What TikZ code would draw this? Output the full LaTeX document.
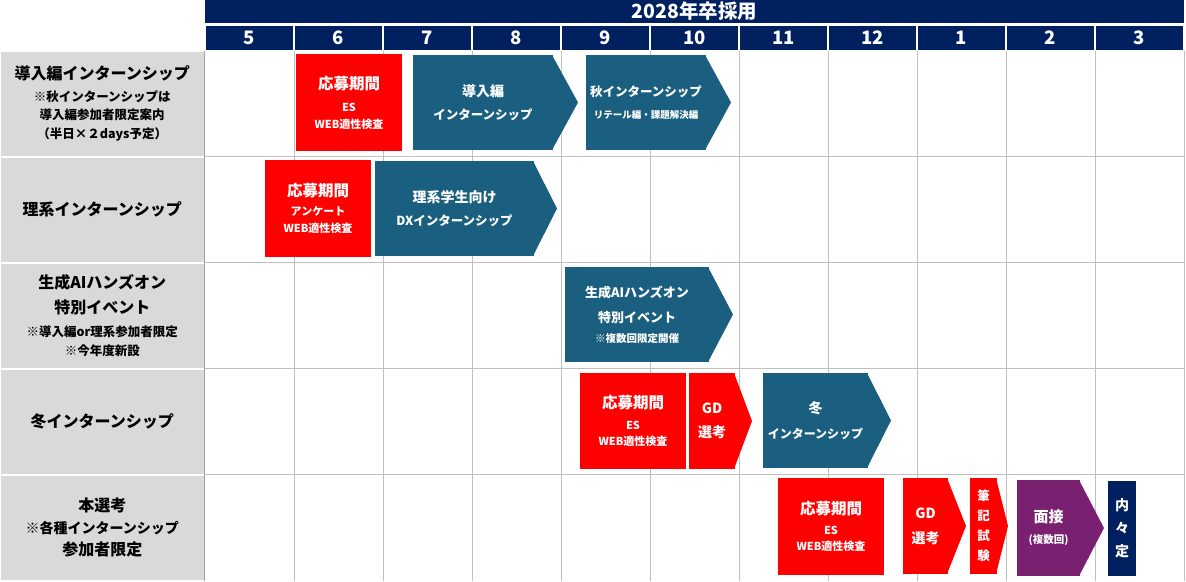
\documentclass[tikz,border=0pt]{standalone}
\usepackage{fontspec}
\setmainfont{Noto Sans CJK JP}
\usetikzlibrary{positioning}

\definecolor{headnavy}{HTML}{002060}
\definecolor{barblue}{HTML}{1B5F80}
\definecolor{barred}{HTML}{FF0000}
\definecolor{barpurple}{HTML}{7A2070}
\definecolor{labelgrey}{HTML}{D9D9D9}
\definecolor{gridgrey}{HTML}{C0C0C0}
\definecolor{edgegrey}{HTML}{A0A0A0}

\newcommand{\fsz}[2]{\fontsize{#1}{#2}\selectfont}

\begin{document}
\begin{tikzpicture}[x=1pt, y=-1pt,
    labelcell/.style={rectangle, fill=labelgrey, draw=white, line width=2pt, minimum width=204.5, minimum height=106, inner sep=0, outer sep=0, align=center},
    headcell/.style={rectangle, fill=headnavy, text=white, inner sep=0, outer sep=0, font=\bfseries\fsz{19.5}{22}},
    monthcell/.style={rectangle, fill=headnavy, draw=white, line width=1.5pt, text=white, minimum width=89, minimum height=25.5, inner sep=0, outer sep=0, font=\bfseries\fsz{18.5}{20}},
    bar/.style={rectangle, text=white, inner sep=0, outer sep=0, align=center},
    redbar/.style={bar, fill=barred},
    bluebar/.style={bar, fill=barblue},
    gridline/.style={draw=gridgrey, line width=1pt},
    edgeline/.style={draw=edgegrey, line width=1.2pt}]
    \useasboundingbox (0,0) rectangle (1186,581);
    \coordinate (bottom) at (0,581);

    % Header
    \node (head) [headcell, minimum width=979, minimum height=23] at (694.5,11.5) {2028年卒採用};
    \node (m5) [monthcell] at (249.5,37.75) {5};
    \node (m6) [monthcell, right=0pt of m5] {6};
    \node (m7) [monthcell, right=0pt of m6] {7};
    \node (m8) [monthcell, right=0pt of m7] {8};
    \node (m9) [monthcell, right=0pt of m8] {9};
    \node (m10) [monthcell, right=0pt of m9] {10};
    \node (m11) [monthcell, right=0pt of m10] {11};
    \node (m12) [monthcell, right=0pt of m11] {12};
    \node (m1) [monthcell, right=0pt of m12] {1};
    \node (m2) [monthcell, right=0pt of m1] {2};
    \node (m3) [monthcell, right=0pt of m2] {3};

    % Row labels
    \node (lbl1) [labelcell, font=\bfseries\fsz{12.5}{18.5}] at (102.25,103.5) {\fsz{16}{20}導入編インターンシップ\\[3pt] \fsz{12.5}{15}※秋インターンシップは\\ \fsz{12.5}{15}導入編参加者限定案内\\ \fsz{12.5}{15}（半日×２days予定）};
    \node (lbl2) [labelcell, below=0pt of lbl1, font=\bfseries\fsz{16}{20}] {理系インターンシップ};
    \node (lbl3) [labelcell, below=0pt of lbl2, font=\bfseries\fsz{12.5}{19}] {\fsz{16}{20}生成AIハンズオン\\[6pt] \fsz{16}{20}特別イベント\\[4.5pt] \fsz{12.5}{15}※導入編or理系参加者限定\\ \fsz{12.5}{15}※今年度新設};
    \node (lbl4) [labelcell, below=0pt of lbl3, font=\bfseries\fsz{16}{20}] {冬インターンシップ};
    \node (lbl5) [labelcell, below=0pt of lbl4, font=\bfseries\fsz{16}{22}] {本選考\\ \fsz{14}{17}※各種インターンシップ\\ \fsz{16}{20}参加者限定};

    % Grid
    \draw[gridline] (m6.south west) -- (m6.south west |- bottom);
    \draw[gridline] (m7.south west) -- (m7.south west |- bottom);
    \draw[gridline] (m8.south west) -- (m8.south west |- bottom);
    \draw[gridline] (m9.south west) -- (m9.south west |- bottom);
    \draw[gridline] (m10.south west) -- (m10.south west |- bottom);
    \draw[gridline] (m11.south west) -- (m11.south west |- bottom);
    \draw[gridline] (m12.south west) -- (m12.south west |- bottom);
    \draw[gridline] (m1.south west) -- (m1.south west |- bottom);
    \draw[gridline] (m2.south west) -- (m2.south west |- bottom);
    \draw[gridline] (m3.south west) -- (m3.south west |- bottom);
    \draw[gridline] (m3.south east) -- (m3.south east |- bottom);
    \draw[gridline] (lbl1.south east) -- (lbl1.south east -| m3.east);
    \draw[gridline] (lbl2.south east) -- (lbl2.south east -| m3.east);
    \draw[gridline] (lbl3.south east) -- (lbl3.south east -| m3.east);
    \draw[gridline] (lbl4.south east) -- (lbl4.south east -| m3.east);
    \draw[edgeline] (lbl1.north east) -- (lbl1.north east |- bottom);

    % Bars
    \node (entry1) [redbar, minimum width=106, minimum height=97, font=\bfseries\fsz{11}{17}] at (349,102.5) {\fsz{15.5}{18}応募期間\\[5pt] \fsz{11}{13}ES\\ \fsz{11}{13}WEB適性検査};
    \node (intro) [bluebar, minimum width=140, minimum height=95, font=\bfseries\fsz{12.5}{23.5}] at (483,102.5) {\fsz{14}{16}導入編\\ \fsz{12.5}{15}インターンシップ};
    \node (autumn) [bluebar, minimum width=120, minimum height=95, font=\bfseries\fsz{10}{22}] at (646,102.5) {\fsz{12.5}{15}秋インターンシップ\\ \fsz{9.5}{11}リテール編・課題解決編};
    \node (entry2) [redbar, minimum width=106, minimum height=97, font=\bfseries\fsz{11}{17}] at (318,208.5) {\fsz{15.5}{18}応募期間\\[2.5pt] \fsz{11}{13}アンケート\\ \fsz{11}{13}WEB適性検査};
    \node (rikei) [bluebar, minimum width=159, minimum height=95, font=\bfseries\fsz{12.5}{23.5}] at (454.5,208.5) {\fsz{14}{16}理系学生向け\\ \fsz{12.5}{15}DXインターンシップ};
    \node (genai) [bluebar, minimum width=144, minimum height=95, font=\bfseries\fsz{10.5}{20}] at (637,314.5) {\fsz{13}{15}生成AIハンズオン\\[5pt] \fsz{13}{15}特別イベント\\ \fsz{10.5}{12}※複数回限定開催};
    \node (entry4) [redbar, minimum width=106, minimum height=96, font=\bfseries\fsz{11}{16}] at (633,421) {\fsz{15.5}{18}応募期間\\[4.3pt] \fsz{11}{13}ES\\ \fsz{11}{13}WEB適性検査};
    \node (gd1) [redbar, minimum width=46, minimum height=96, font=\bfseries\fsz{14}{24}] at (712,421) {GD\\選考};
    \node (winter) [bluebar, minimum width=105, minimum height=95, font=\bfseries\fsz{12}{24.3}] at (815.5,420.5) {\fsz{14}{16}冬\\ \fsz{12}{14}インターンシップ};
    \node (entry5) [redbar, minimum width=106, minimum height=97, font=\bfseries\fsz{11}{16}] at (831,526.5) {\fsz{15.5}{18}応募期間\\[4.3pt] \fsz{11}{13}ES\\ \fsz{11}{13}WEB適性検査};
    \node (gd2) [redbar, minimum width=45, minimum height=96, font=\bfseries\fsz{14}{25}] at (925.5,526) {GD\\選考};
    \node (hikki) [redbar, minimum width=27, minimum height=96, font=\bfseries\fsz{12.5}{20}] at (983.5,526) {筆\\記\\試\\験};
    \node (mensetsu) [bar, fill=barpurple, minimum width=63, minimum height=96, font=\bfseries\fsz{10.5}{21}] at (1048.5,528) {\fsz{15}{17}面接\\ \fsz{10.5}{12}(複数回)};
    \node (naitei) [bar, fill=headnavy, minimum width=28, minimum height=95, font=\bfseries\fsz{14}{23}] at (1122,528.5) {内\\々\\定};

    % Arrow tips
    \fill[barblue] ([xshift=-1pt]intro.north east) -- ([xshift=25pt]intro.east) -- ([xshift=-1pt]intro.south east) -- cycle;
    \fill[barblue] ([xshift=-1pt]autumn.north east) -- ([xshift=25pt]autumn.east) -- ([xshift=-1pt]autumn.south east) -- cycle;
    \fill[barblue] ([xshift=-1pt]rikei.north east) -- ([xshift=23pt]rikei.east) -- ([xshift=-1pt]rikei.south east) -- cycle;
    \fill[barblue] ([xshift=-1pt]genai.north east) -- ([xshift=24pt]genai.east) -- ([xshift=-1pt]genai.south east) -- cycle;
    \fill[barred] ([xshift=-1pt]gd1.north east) -- ([xshift=17pt]gd1.east) -- ([xshift=-1pt]gd1.south east) -- cycle;
    \fill[barblue] ([xshift=-1pt]winter.north east) -- ([xshift=23pt]winter.east) -- ([xshift=-1pt]winter.south east) -- cycle;
    \fill[barred] ([xshift=-1pt]gd2.north east) -- ([xshift=18pt]gd2.east) -- ([xshift=-1pt]gd2.south east) -- cycle;
    \fill[barred] ([xshift=-1pt]hikki.north east) -- ([xshift=11pt]hikki.east) -- ([xshift=-1pt]hikki.south east) -- cycle;
    \fill[barpurple] ([xshift=-1pt]mensetsu.north east) -- ([xshift=24pt]mensetsu.east) -- ([xshift=-1pt]mensetsu.south east) -- cycle;
\end{tikzpicture}
\end{document}
